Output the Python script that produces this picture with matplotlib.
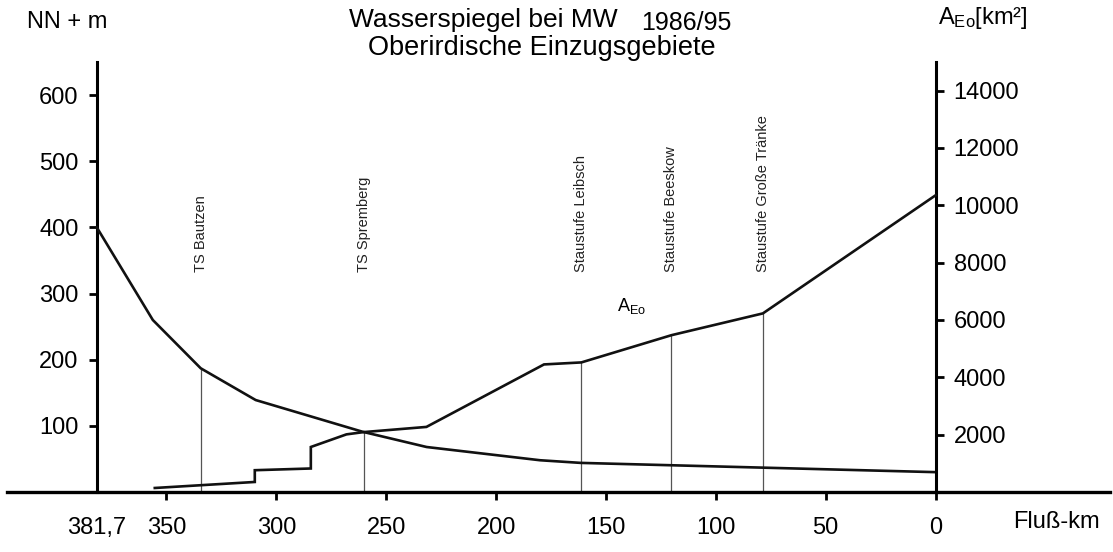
import numpy as np
import matplotlib
matplotlib.use("Agg")
from matplotlib import pyplot as plt

plt.rcParams['font.family'] = ['Liberation Sans', 'DejaVu Sans']

# Wasserspiegel bei MW (NN + m) entlang Fluss-km
ws_km = [381.7, 356.2, 334.4, 309.4, 260.7, 231.6, 180.0, 161.5, 0.0]
ws_m = [400, 260, 187, 139, 91, 68, 48, 44, 30]

# oberirdisches Einzugsgebiet A_Eo (km²)
ae_km = [355.3, 309.8, 309.8, 284.3, 284.3, 268.1, 260.2, 231.7, 178.2, 161.2, 120.2, 78.6, 0.0]
ae_val = [140, 350, 760, 820, 1570, 2010, 2090, 2270, 4450, 4520, 5470, 6230, 10350]

# Stauanlagen
st_km = [334.4, 260.2, 161.5, 120.2, 78.6]
st_names = ['TS Bautzen', 'TS Spremberg', 'Staustufe Leibsch', 'Staustufe Beeskow',
            'Staustufe Große Tränke']

xticks = [381.7, 350, 300, 250, 200, 150, 100, 50, 0]
xticklabels = ['381,7', '350', '300', '250', '200', '150', '100', '50', '0']
yticks_left = [100, 200, 300, 400, 500, 600]
yticks_right = [2000, 4000, 6000, 8000, 10000, 12000, 14000]

YMAX = 650
AMAX = 15000

fig = plt.figure(figsize=(11.13, 5.52), dpi=100)
ax = fig.add_axes([0.006, 0.1087, 0.991, 0.779])
ax2 = ax.twinx()

ax.set_xlim(422.7, -79.2)
ax.set_ylim(0, YMAX)
ax2.set_ylim(0, AMAX)

ax.plot(ws_km, ws_m, color='#111111', lw=1.9, solid_joinstyle='miter', zorder=3)
ax2.plot(ae_km, ae_val, color='#111111', lw=1.9, solid_joinstyle='miter', zorder=3)

# senkrechte Linien bis zur oberen Kurve
scale = AMAX / YMAX
for km, name in zip(st_km, st_names):
    top = max(np.interp(km, ws_km[::-1], ws_m[::-1]),
              np.interp(km, ae_km[::-1], ae_val[::-1]) / scale)
    ax.plot([km, km], [0, top], color='#555555', lw=0.9, zorder=2)
    ax.text(km, 332, name, rotation=90, ha='center', va='bottom', fontsize=10.5,
            color='#222222')

ax.text(145, 274, r'$\mathregular{A_{Eo}}$', fontsize=13, ha='left', va='baseline')

# Achsen
for s in ['top', 'right']:
    ax.spines[s].set_visible(False)
ax.spines['left'].set_position(('data', 381.7))
ax.spines['left'].set_bounds(0, YMAX)
ax.spines['left'].set_linewidth(2.2)
ax.spines['bottom'].set_linewidth(2.4)
for s in ['top', 'left', 'bottom']:
    ax2.spines[s].set_visible(False)
ax2.spines['right'].set_position(('data', 0))
ax2.spines['right'].set_bounds(0, AMAX)
ax2.spines['right'].set_linewidth(2.2)

ax.set_xticks(xticks)
ax.set_xticklabels(xticklabels)
ax.set_yticks(yticks_left)
ax2.set_yticks(yticks_right)
ax.tick_params(axis='x', direction='out', length=6, width=2, pad=12, labelsize=17)
ax.tick_params(axis='y', direction='out', length=6, width=2, pad=7, labelsize=17)
ax2.tick_params(axis='y', direction='out', length=6, width=2, pad=7, labelsize=17)
ax.xaxis.get_major_ticks()[0].tick1line.set_visible(False)
ax.get_xticklabels()[0].set_x(384)

# Beschriftungen
fig.text(0.024, 0.96, 'NN + m', fontsize=17, ha='left', va='center')
fig.text(0.843, 0.967, r'$\mathregular{A_{Eo}}$[km²]', fontsize=17, ha='left', va='center')
fig.text(0.910, 0.054, 'Fluß-km', fontsize=17, ha='left', va='center')
fig.text(0.3136, 0.963, 'Wasserspiegel bei MW', fontsize=19, ha='left', va='center')
fig.text(0.576, 0.958, '1986/95', fontsize=18, ha='left', va='center')
fig.text(0.3305, 0.913, 'Oberirdische Einzugsgebiete', fontsize=19.5, ha='left', va='center')

fig.savefig('out.png', dpi=100)
